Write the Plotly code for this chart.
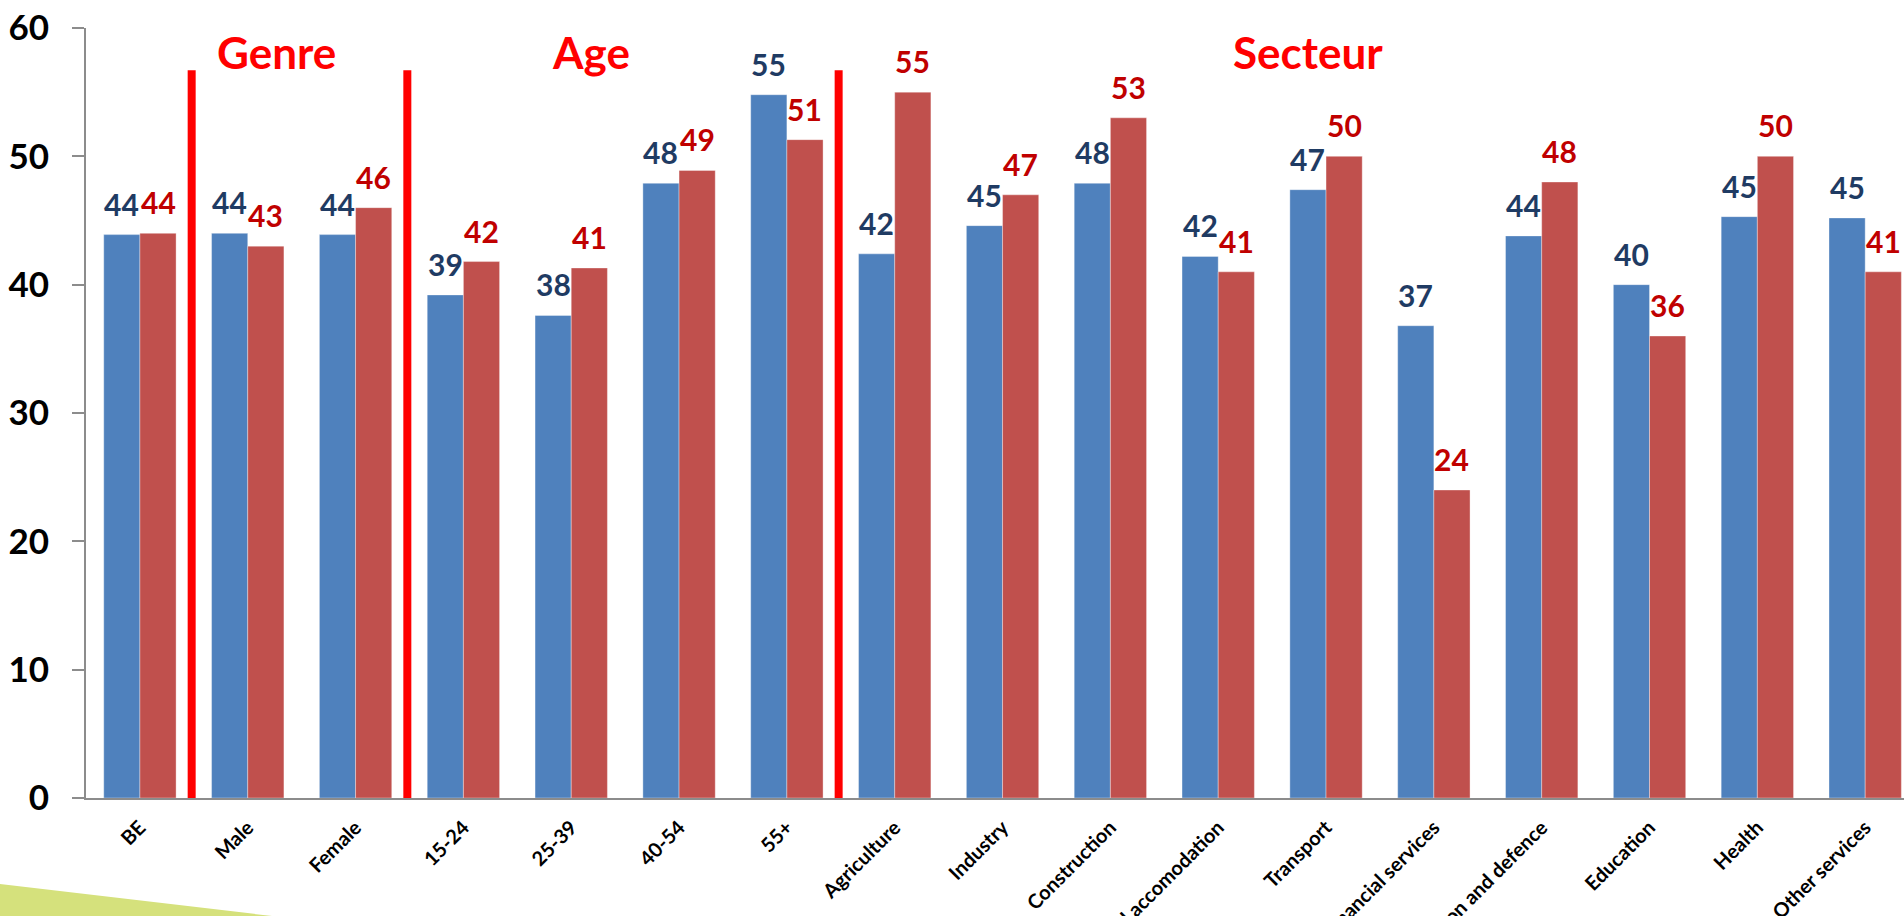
import plotly.graph_objects as go

categories = ["BE", "Male", "Female", "15-24", "25-39", "40-54", "55+",
              "Agriculture", "Industry", "Construction", "Trade and accomodation",
              "Transport", "Financial services", "Public administration and defence",
              "Education", "Health", "Other services"]
series_blue = [43.9, 44.0, 43.9, 39.2, 37.6, 47.9, 54.8,
               42.4, 44.6, 47.9, 42.2, 47.4, 36.8, 43.8, 40.0, 45.3, 45.2]
series_red = [44.0, 43.0, 46.0, 41.8, 41.3, 48.9, 51.3,
              55.0, 47.0, 53.0, 41.0, 50.0, 24.0, 48.0, 36.0, 50.0, 41.0]
group_names = ["", "Genre", "Age", "Secteur"]
group_sizes = [1, 2, 4, 10]
group_title_x = [None, 1.27, 4.18, 10.83]
y_ticks = [0, 10, 20, 30, 40, 50, 60]

BLUE = "#4F81BD"
RED = "#C0504D"
BLUE_TXT = "#1F3B63"
RED_TXT = "#C00000"
AXIS = "#8C8C8C"
FONT = "Lato, 'Open Sans', sans-serif"

W, H = 1904, 916
ML, MR, MT, MB = 86, 0, 28, 118
BARGAP = 0.329
idx = list(range(len(categories)))

fig = go.Figure()
fig.add_trace(go.Bar(x=idx, y=series_blue, marker=dict(color=BLUE, line=dict(color="rgba(255,255,255,0.35)", width=1)),
                     offsetgroup="a", hoverinfo="skip"))
fig.add_trace(go.Bar(x=idx, y=series_red, marker=dict(color=RED, line=dict(color="rgba(255,255,255,0.35)", width=1)),
                     offsetgroup="b", hoverinfo="skip"))

def lbl(v):
    return f"{int(v + 0.5):d}"

half = (1 - BARGAP) / 4
annotations = []
for i, (b, r) in enumerate(zip(series_blue, series_red)):
    annotations.append(dict(x=i - half, y=b, text=lbl(b), showarrow=False, xref="x", yref="y",
                            yanchor="bottom", yshift=11, font=dict(family=FONT, size=30, color=BLUE_TXT, weight="bold")))
    annotations.append(dict(x=i + half, y=r, text=lbl(r), showarrow=False, xref="x", yref="y",
                            yanchor="bottom", yshift=11, font=dict(family=FONT, size=30, color=RED_TXT, weight="bold")))

for name, gx in zip(group_names, group_title_x):
    if name:
        annotations.append(dict(x=gx, y=58.1, text=name, showarrow=False, xref="x", yref="y",
                                yanchor="middle", font=dict(family=FONT, size=44, color="#FF0000", weight="bold")))

shapes = []
cum = 0
for s in group_sizes[:-1]:
    cum += s
    xb = cum - 0.5 - 0.02
    shapes.append(dict(type="line", x0=xb, x1=xb, y0=0, y1=56.7, xref="x", yref="y",
                       line=dict(color="#FF0000", width=8), layer="above"))

# decorative green wedge at bottom-left
pw, ph = W - ML - MR, H - MT - MB
def px(xp):
    return (xp - ML) / pw
def py(yp):
    return (H - MB - yp) / ph
shapes.append(dict(type="path", xref="paper", yref="paper",
                   path=f"M {px(0)},{py(884)} L {px(272)},{py(916)} L {px(0)},{py(916)} Z",
                   fillcolor="#D5E17C", line=dict(width=0), layer="below"))

fig.update_layout(
    width=W, height=H,
    margin=dict(l=ML, r=MR, t=MT, b=MB, pad=0),
    barmode="group", bargap=BARGAP, bargroupgap=0,
    plot_bgcolor="white", paper_bgcolor="white",
    showlegend=False,
    annotations=annotations, shapes=shapes,
    font=dict(family=FONT),
)
fig.update_xaxes(range=[-0.5, 16.36], tickmode="array", tickvals=idx, ticktext=categories,
                 tickangle=-45, showline=True, linecolor=AXIS, linewidth=2, ticks="",
                 showgrid=False, zeroline=False, automargin=False,
                 tickfont=dict(family=FONT, size=20, color="black", weight="bold"),
                 ticklabelstandoff=8)
fig.update_yaxes(range=[0, 60], tickvals=y_ticks, showline=True, linecolor=AXIS, linewidth=2,
                 ticks="outside", ticklen=12, tickwidth=2, tickcolor=AXIS,
                 showgrid=False, zeroline=False, automargin=False,
                 tickfont=dict(family=FONT, size=35, color="black", weight="bold"),
                 ticklabelstandoff=16)

fig.write_html("out.html")
